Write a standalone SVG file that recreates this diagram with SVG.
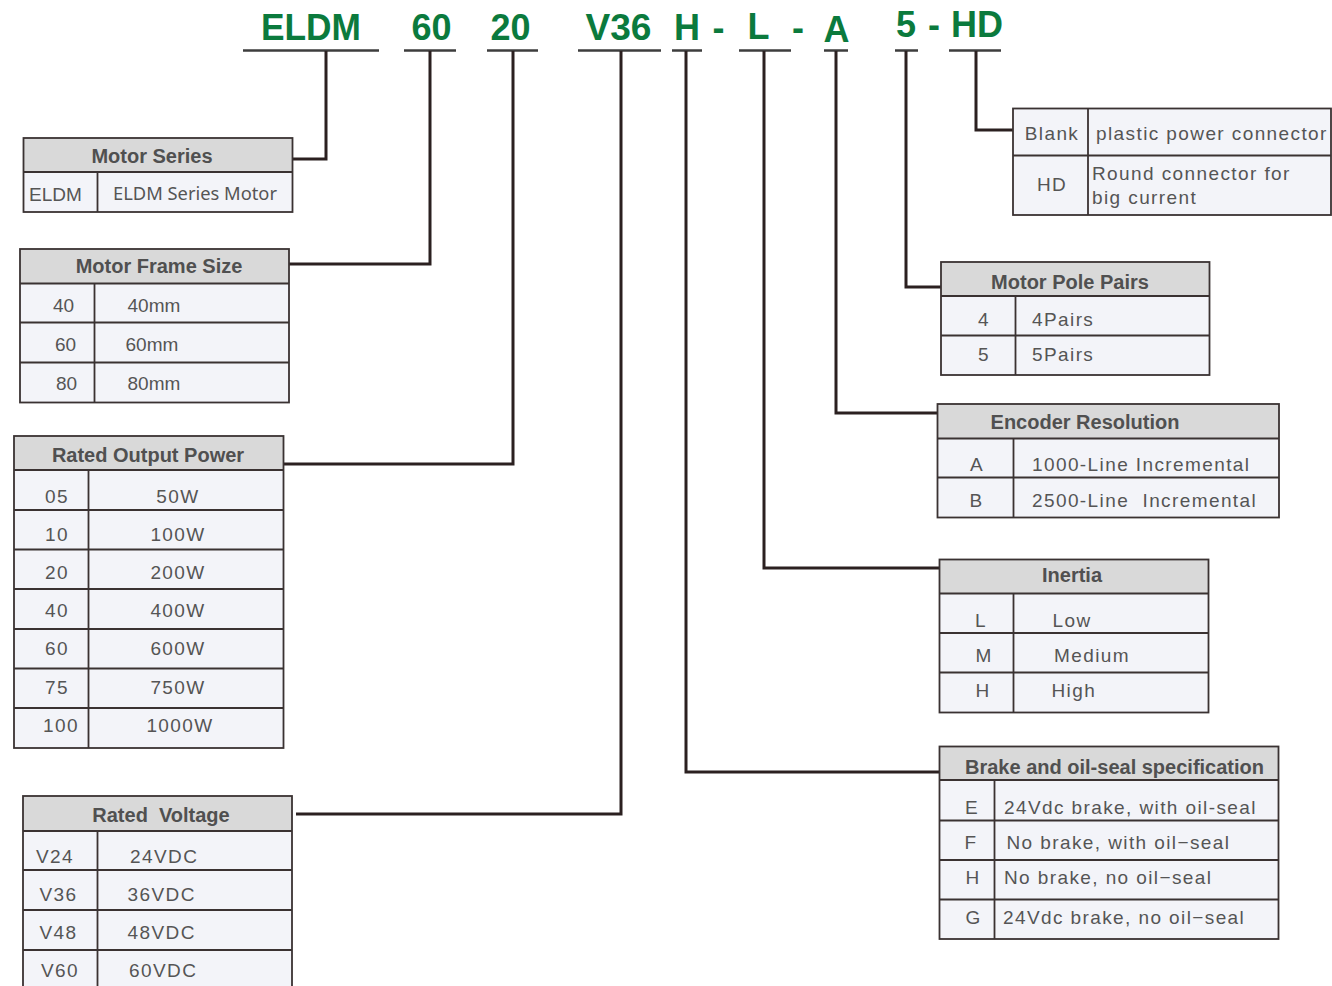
<svg xmlns="http://www.w3.org/2000/svg" width="1332" height="986" viewBox="0 0 1332 986">
<style>
.code{font-family:"Liberation Sans",Arial,sans-serif;font-weight:bold;font-size:36px;fill:#0b7a3d;text-anchor:middle}
.ul{stroke:#3d3d3d;stroke-width:2.5;fill:none}
.con{stroke:#2b2020;stroke-width:3;fill:none;stroke-linejoin:miter}
.hd{fill:#d9d9d9}
.bd{fill:#f3f4f9}
.grid{stroke:#3a3232;stroke-width:1.8;fill:none}
.ht{font-family:"Liberation Sans",Arial,sans-serif;font-weight:bold;font-size:20px;fill:#505050;text-anchor:middle}
.t{font-family:"Liberation Sans",Arial,sans-serif;font-size:19px;fill:#555555}
.ls{letter-spacing:1.4px}
.m{text-anchor:middle}
</style>
<rect width="1332" height="986" fill="#ffffff"/>
<g id="code">
<text class="code" x="311" y="40" textLength="100" lengthAdjust="spacingAndGlyphs">ELDM</text>
<text class="code" x="431.5" y="40">60</text>
<text class="code" x="510.5" y="40">20</text>
<text class="code" x="618.5" y="40" textLength="66" lengthAdjust="spacingAndGlyphs">V36</text>
<text class="code" x="687" y="40">H</text>
<text class="code" x="718.5" y="40">-</text>
<text class="code" x="758.5" y="39">L</text>
<text class="code" x="798" y="40">-</text>
<text class="code" x="836.5" y="42">A</text>
<text class="code" x="906" y="37">5</text>
<text class="code" x="934" y="37">-</text>
<text class="code" x="977" y="37">HD</text>
<g class="ul">
<line x1="243" y1="50.5" x2="379" y2="50.5"/>
<line x1="404" y1="50.5" x2="456" y2="50.5"/>
<line x1="487" y1="50.5" x2="538" y2="50.5"/>
<line x1="578" y1="50.5" x2="661" y2="50.5"/>
<line x1="672" y1="50.5" x2="702" y2="50.5"/>
<line x1="739" y1="50.5" x2="791" y2="50.5"/>
<line x1="824" y1="50.5" x2="848" y2="50.5"/>
<line x1="895" y1="50.5" x2="918" y2="50.5"/>
<line x1="949" y1="50.5" x2="1001" y2="50.5"/>
</g>
</g>
<g id="connectors" class="con">
<polyline points="326,51 326,159 292,159"/>
<polyline points="430,51 430,264 289,264"/>
<polyline points="513,51 513,464 283,464"/>
<polyline points="621,51 621,814 296,814"/>
<polyline points="686,51 686,772 940,772"/>
<polyline points="764,51 764,568 940,568"/>
<polyline points="836,51 836,413 938,413"/>
<polyline points="906,51 906,287 941,287"/>
<polyline points="976,51 976,130 1013,130"/>
</g>
<g id="motor-series">
<rect class="hd" x="23.5" y="138" width="269" height="34"/>
<rect class="bd" x="23.5" y="172" width="269" height="40"/>
<g class="grid"><rect x="23.5" y="138" width="269" height="74"/><line x1="23.5" y1="172" x2="292.5" y2="172"/><line x1="97.5" y1="172" x2="97.5" y2="212"/></g>
<text class="ht" x="152" y="163">Motor Series</text>
<text class="t" x="29" y="201">ELDM</text>
<text x="113" y="200" font-family="'Noto Sans','Open Sans',sans-serif" font-size="18" fill="#555555" textLength="164" lengthAdjust="spacingAndGlyphs">ELDM Series Motor</text>
</g>
<g id="frame-size">
<rect class="hd" x="20" y="249" width="269" height="34.5"/>
<rect class="bd" x="20" y="283.5" width="269" height="119"/>
<g class="grid"><rect x="20" y="249" width="269" height="153.5"/><line x1="20" y1="283.5" x2="289" y2="283.5"/><line x1="20" y1="322.5" x2="289" y2="322.5"/><line x1="20" y1="362.5" x2="289" y2="362.5"/><line x1="94.5" y1="283.5" x2="94.5" y2="402.5"/></g>
<text class="ht" x="159" y="273">Motor Frame Size</text>
<text class="t" x="53" y="311.5">40</text><text class="t" x="127.5" y="311.5">40mm</text>
<text class="t" x="55" y="351">60</text><text class="t" x="125.5" y="351">60mm</text>
<text class="t" x="56" y="390">80</text><text class="t" x="127.5" y="390">80mm</text>
</g>
<g id="output-power">
<rect class="hd" x="14" y="436" width="269.5" height="34"/>
<rect class="bd" x="14" y="470" width="269.5" height="278"/>
<g class="grid"><rect x="14" y="436" width="269.5" height="312"/>
<line x1="14" y1="470" x2="283.5" y2="470"/><line x1="14" y1="510" x2="283.5" y2="510"/><line x1="14" y1="549.5" x2="283.5" y2="549.5"/><line x1="14" y1="589" x2="283.5" y2="589"/><line x1="14" y1="629" x2="283.5" y2="629"/><line x1="14" y1="668.5" x2="283.5" y2="668.5"/><line x1="14" y1="708" x2="283.5" y2="708"/><line x1="88.5" y1="470" x2="88.5" y2="748"/></g>
<text class="ht" x="148" y="462">Rated Output Power</text>
<g class="t m ls">
<text x="57" y="503">05</text><text x="178" y="503">50W</text>
<text x="57" y="541">10</text><text x="178" y="541">100W</text>
<text x="57" y="579">20</text><text x="178" y="579">200W</text>
<text x="57" y="617">40</text><text x="178" y="617">400W</text>
<text x="57" y="655">60</text><text x="178" y="655">600W</text>
<text x="57" y="693.5">75</text><text x="178" y="693.5">750W</text>
<text x="61" y="732">100</text><text x="180" y="732">1000W</text>
</g>
</g>
<g id="rated-voltage">
<rect class="hd" x="23" y="796" width="269" height="35"/>
<rect class="bd" x="23" y="831" width="269" height="165"/>
<g class="grid"><rect x="23" y="796" width="269" height="200"/><line x1="23" y1="831" x2="292" y2="831"/><line x1="23" y1="870" x2="292" y2="870"/><line x1="23" y1="910" x2="292" y2="910"/><line x1="23" y1="950" x2="292" y2="950"/><line x1="97.5" y1="831" x2="97.5" y2="996"/></g>
<text class="ht" x="161" y="822" xml:space="preserve">Rated  Voltage</text>
<g class="t ls">
<text x="36" y="862.5">V24</text><text x="130" y="862.5">24VDC</text>
<text x="39.5" y="900.5">V36</text><text x="127.5" y="900.5">36VDC</text>
<text x="39.5" y="938.5">V48</text><text x="127.5" y="938.5">48VDC</text>
<text x="41" y="976.5">V60</text><text x="129" y="976.5">60VDC</text>
</g>
</g>
<g id="connector-type">
<rect class="bd" x="1013" y="108.5" width="318" height="106.5"/>
<g class="grid"><rect x="1013" y="108.5" width="318" height="106.5"/><line x1="1013" y1="155.5" x2="1331" y2="155.5"/><line x1="1088" y1="108.5" x2="1088" y2="215"/></g>
<g class="t ls">
<text class="m" x="1052" y="140">Blank</text><text x="1096" y="140">plastic power connector</text>
<text class="m" x="1052" y="191">HD</text><text x="1092" y="180">Round connector for</text><text x="1092" y="203.5">big current</text>
</g>
</g>
<g id="pole-pairs">
<rect class="hd" x="941" y="262" width="268.5" height="34"/>
<rect class="bd" x="941" y="296" width="268.5" height="79"/>
<g class="grid"><rect x="941" y="262" width="268.5" height="113"/><line x1="941" y1="296" x2="1209.5" y2="296"/><line x1="941" y1="335.5" x2="1209.5" y2="335.5"/><line x1="1015.5" y1="296" x2="1015.5" y2="375"/></g>
<text class="ht" x="1070" y="288.5">Motor Pole Pairs</text>
<g class="t ls">
<text class="m" x="984" y="326">4</text><text x="1032" y="326">4Pairs</text>
<text class="m" x="984" y="361">5</text><text x="1032" y="361">5Pairs</text>
</g>
</g>
<g id="encoder">
<rect class="hd" x="937.5" y="404" width="341.5" height="34.5"/>
<rect class="bd" x="937.5" y="438.5" width="341.5" height="79"/>
<g class="grid"><rect x="937.5" y="404" width="341.5" height="113.5"/><line x1="937.5" y1="438.5" x2="1279" y2="438.5"/><line x1="937.5" y1="477.5" x2="1279" y2="477.5"/><line x1="1013.5" y1="438.5" x2="1013.5" y2="517.5"/></g>
<text class="ht" x="1085" y="428.5">Encoder Resolution</text>
<g class="t ls">
<text class="m" x="977" y="471">A</text><text x="1032" y="471">1000-Line Incremental</text>
<text class="m" x="976.5" y="506.5">B</text><text x="1032" y="506.5" xml:space="preserve">2500-Line  Incremental</text>
</g>
</g>
<g id="inertia">
<rect class="hd" x="939.5" y="559.5" width="269" height="34"/>
<rect class="bd" x="939.5" y="593.5" width="269" height="119"/>
<g class="grid"><rect x="939.5" y="559.5" width="269" height="153"/><line x1="939.5" y1="593.5" x2="1208.5" y2="593.5"/><line x1="939.5" y1="633" x2="1208.5" y2="633"/><line x1="939.5" y1="672.5" x2="1208.5" y2="672.5"/><line x1="1013.5" y1="593.5" x2="1013.5" y2="712.5"/></g>
<text class="ht" x="1072" y="582">Inertia</text>
<g class="t ls">
<text class="m" x="981" y="627">L</text><text x="1052.5" y="627">Low</text>
<text class="m" x="984" y="662">M</text><text x="1054" y="662">Medium</text>
<text class="m" x="983" y="697">H</text><text x="1051.5" y="697">High</text>
</g>
</g>
<g id="brake">
<rect class="hd" x="939.5" y="746.5" width="339" height="33.5"/>
<rect class="bd" x="939.5" y="780" width="339" height="159"/>
<g class="grid"><rect x="939.5" y="746.5" width="339" height="192.5"/><line x1="939.5" y1="780" x2="1278.5" y2="780"/><line x1="939.5" y1="820.5" x2="1278.5" y2="820.5"/><line x1="939.5" y1="860" x2="1278.5" y2="860"/><line x1="939.5" y1="899.5" x2="1278.5" y2="899.5"/><line x1="994.5" y1="780" x2="994.5" y2="939"/></g>
<text class="ht" x="965" y="773.5" style="text-anchor:start">Brake and oil-seal specification</text>
<g class="t ls">
<text class="m" x="972" y="813.5">E</text><text x="1004" y="813.5">24Vdc brake, with oil-seal</text>
<text class="m" x="971" y="848.5">F</text><text x="1006.5" y="848.5">No brake, with oil−seal</text>
<text class="m" x="973" y="883.5">H</text><text x="1004" y="883.5">No brake, no oil−seal</text>
<text class="m" x="973.5" y="923.5">G</text><text x="1003" y="923.5">24Vdc brake, no oil−seal</text>
</g>
</g>
</svg>
